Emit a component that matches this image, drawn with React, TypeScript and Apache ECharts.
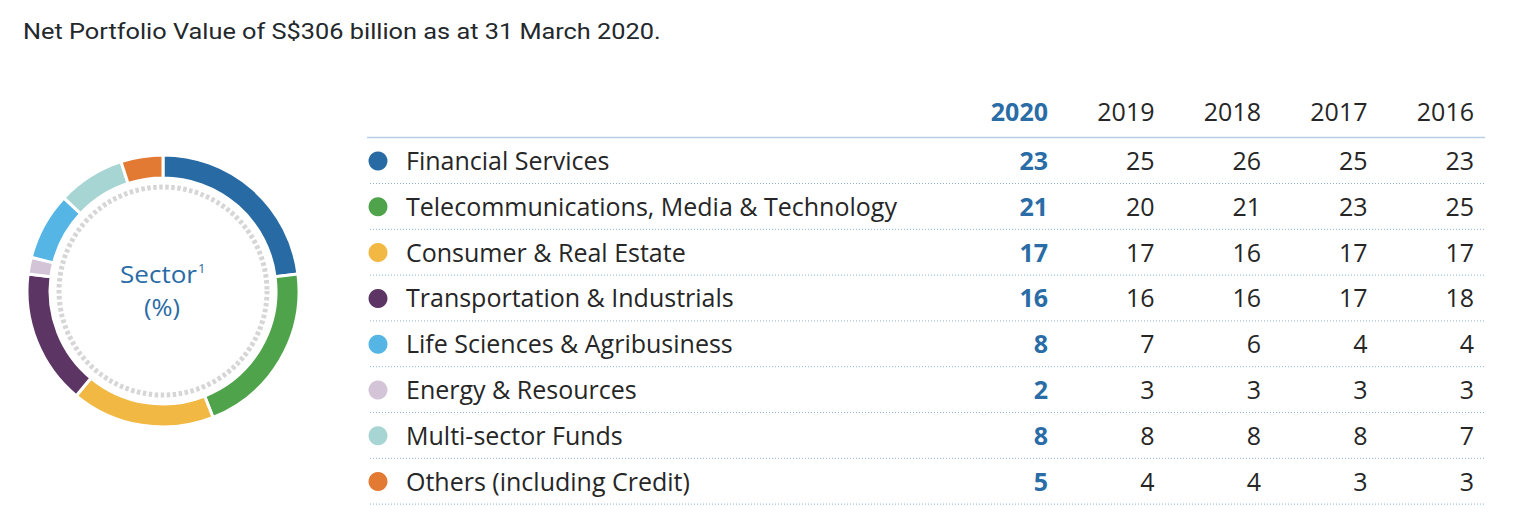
import React, { useEffect, useRef } from 'react';
import * as echarts from 'echarts';

const categories = [
  'Financial Services',
  'Telecommunications, Media & Technology',
  'Consumer & Real Estate',
  'Transportation & Industrials',
  'Life Sciences & Agribusiness',
  'Energy & Resources',
  'Multi-sector Funds',
  'Others (including Credit)',
];
const sectorColors = ['#286ba4', '#4fa34b', '#f1b843', '#5c3564', '#55b5e5', '#d4c4d7', '#a6d5d3', '#e27a33'];
const years = ['2020', '2019', '2018', '2017', '2016'];
const v2020 = [23, 21, 17, 16, 8, 2, 8, 5];
const v2019 = [25, 20, 17, 16, 7, 3, 8, 4];
const v2018 = [26, 21, 16, 16, 6, 3, 8, 4];
const v2017 = [25, 23, 17, 17, 4, 3, 8, 3];
const v2016 = [23, 25, 17, 18, 4, 3, 7, 3];
const yearValues = [v2020, v2019, v2018, v2017, v2016];
// order of slices in the donut, clockwise from 12 o'clock
const pieOrder = [0, 1, 2, 3, 5, 4, 6, 7];
const titleText = 'Net Portfolio Value of S$306 billion as at 31 March 2020.';

const FONT = '"Open Sans", "Noto Sans", sans-serif';
const TXT = '#262626';
const BLUE = '#2a6ca6';

function measure(text: string, font: string) {
  const c = document.createElement('canvas').getContext('2d')!;
  c.font = font;
  return c.measureText(text).width;
}

export default function App() {
  const ref = useRef<HTMLDivElement>(null);
  useEffect(() => {
    const chart = echarts.init(ref.current!, null, { renderer: 'svg' });
    const cx = 163;
    const cy = 291;
    const colX = [1048, 1154.5, 1261, 1367.5, 1474];
    const rowY0 = 160;
    const rowH = 45.8;
    const fs = 25;
    const lineX1 = 367;
    const lineX2 = 1485;

    const graphics: any[] = [];
    const tFont = '22px Roboto, sans-serif';
    const tw = measure(titleText, tFont);
    graphics.push({
      type: 'text',
      x: 23,
      y: 32,
      scaleX: 638 / tw,
      style: { text: titleText, x: 0, y: 0, font: tFont, fill: '#23282c', align: 'left', verticalAlign: 'middle' },
    });
    // inner dashed circle
    graphics.push({
      type: 'circle',
      shape: { cx, cy, r: 104 },
      style: { fill: 'none', stroke: '#d6d6d6', lineWidth: 5, lineDash: [3.5, 2.5] },
    });
    const sFont = `24px ${FONT}`;
    const sw = measure('Sector', sFont);
    const sScale = 77 / sw;
    graphics.push({
      type: 'text',
      x: 120,
      y: 273,
      scaleX: sScale,
      style: { text: 'Sector', x: 0, y: 0, font: sFont, fill: BLUE, align: 'left', verticalAlign: 'middle' },
    });
    graphics.push({
      type: 'text',
      style: { text: '1', x: 198, y: 268, font: `13px ${FONT}`, fill: BLUE, align: 'left', verticalAlign: 'middle' },
    });
    graphics.push({
      type: 'text',
      x: 162,
      y: 307,
      scaleX: 1.06,
      style: { text: '(%)', x: 0, y: 0, font: sFont, fill: BLUE, align: 'center', verticalAlign: 'middle' },
    });

    // header
    years.forEach((y, j) => {
      graphics.push({
        type: 'text',
        style: {
          text: y, x: colX[j], y: 111, font: `${j === 0 ? 'bold ' : ''}${fs}px ${FONT}`,
          fill: j === 0 ? BLUE : TXT, align: 'right', verticalAlign: 'middle',
        },
      });
    });
    graphics.push({
      type: 'line',
      shape: { x1: lineX1, y1: 137.5, x2: lineX2, y2: 137.5 },
      style: { stroke: '#b7cfe5', lineWidth: 1.5 },
    });

    categories.forEach((cat, i) => {
      const y = rowY0 + i * rowH;
      graphics.push({ type: 'circle', shape: { cx: 378, cy: y + 1, r: 9.5 }, style: { fill: sectorColors[i] } });
      graphics.push({
        type: 'text',
        style: { text: cat, x: 406, y, font: `${fs}px ${FONT}`, fill: TXT, align: 'left', verticalAlign: 'middle' },
      });
      yearValues.forEach((vals, j) => {
        graphics.push({
          type: 'text',
          style: {
            text: String(vals[i]), x: colX[j], y, font: `${j === 0 ? 'bold ' : ''}${fs}px ${FONT}`,
            fill: j === 0 ? BLUE : TXT, align: 'right', verticalAlign: 'middle',
          },
        });
      });
      graphics.push({
        type: 'line',
        shape: { x1: lineX1 + 3, y1: y + 23.5, x2: lineX2, y2: y + 23.5 },
        style: { stroke: '#8fb2d6', lineWidth: 1, lineDash: [1, 2] },
      });
    });

    const option: any = {
      animation: false,
      backgroundColor: '#fff',
      series: [
        {
          type: 'pie',
          center: [cx, cy],
          radius: [113, 136],
          startAngle: 90,
          clockwise: true,
          silent: true,
          label: { show: false },
          labelLine: { show: false },
          itemStyle: { borderColor: '#fff', borderWidth: 3 },
          data: pieOrder.map((i) => ({
            name: categories[i],
            value: v2020[i],
            itemStyle: { color: sectorColors[i] },
          })),
        },
      ],
      graphic: { elements: graphics },
    };
    chart.setOption(option);
    return () => chart.dispose();
  }, []);
  return (
    <div
      ref={ref}
      style={{ position: 'fixed', left: 0, top: 0, width: 1536, height: 529, background: '#fff' }}
    />
  );
}
